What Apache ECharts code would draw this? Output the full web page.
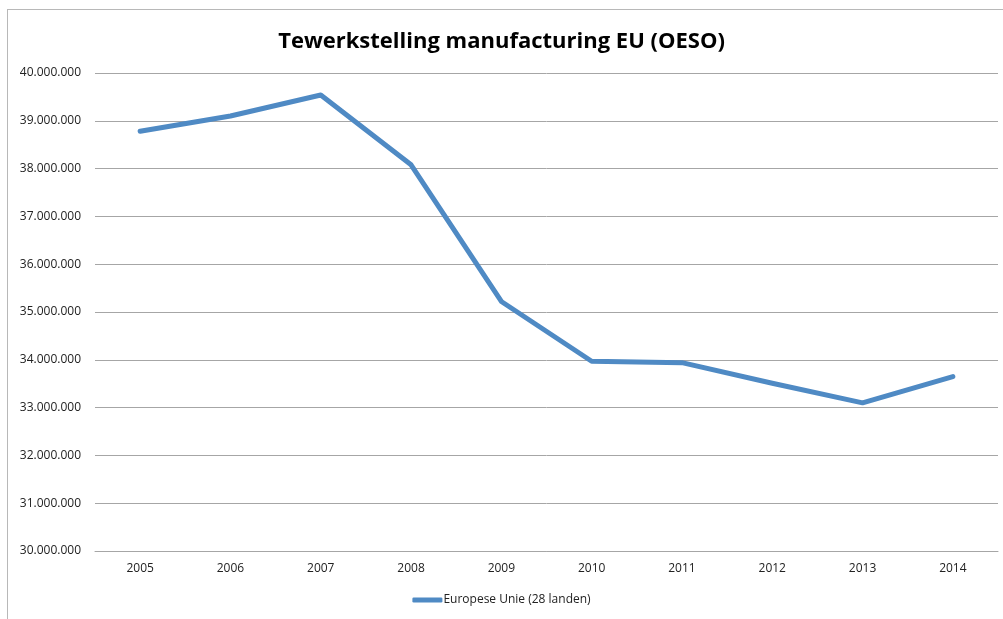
<!DOCTYPE html>
<html>
<head>
<meta charset="utf-8">
<script src="https://cdn.jsdelivr.net/npm/echarts@6/dist/echarts.min.js"></script>
<style>
  html, body { margin: 0; padding: 0; background: #fff; }
  #frame { position: absolute; left: 7px; top: 9px; width: 1000px; height: 612px; border: 1px solid #b8b8b8; box-sizing: border-box; border-right: none; border-bottom: none; }
  #main { position: absolute; left: 0; top: 0; width: 1003px; height: 619px; }
</style>
</head>
<body>
<div id="frame"></div>
<div id="main"></div>
<script>
  // jaren op de x-as
  const years = ['2005', '2006', '2007', '2008', '2009', '2010', '2011', '2012', '2013', '2014'];
  // tewerkstelling EU-28
  const employment = [38780000, 39100000, 39540000, 38080000, 35220000, 33970000, 33940000, 33510000, 33100000, 33650000];
  const seriesName = 'Europese Unie (28 landen)';

  function fmtDots(v) {
    return String(Math.round(v)).replace(/\B(?=(\d{3})+(?!\d))/g, '.');
  }

  const chart = echarts.init(document.getElementById('main'));
  chart.setOption({
    animation: false,
    textStyle: { fontFamily: 'Open Sans' },
    title: {
      text: 'Tewerkstelling manufacturing EU (OESO)',
      left: 'center',
      top: 26,
      textStyle: { fontSize: 22, fontWeight: 'bold', color: '#000', fontFamily: 'Open Sans' }
    },
    legend: {
      bottom: 8,
      left: 'center',
      itemWidth: 30,
      itemHeight: 5,
      itemGap: 2,
      icon: 'roundRect',
      data: [seriesName],
      textStyle: { fontSize: 12, color: '#222', padding: [0, 0, 0, -4] }
    },
    grid: { left: 95, right: 5, top: 73, bottom: 68 },
    xAxis: {
      type: 'category',
      data: years,
      boundaryGap: true,
      axisLine: { lineStyle: { color: '#a6a6a6', width: 1 } },
      axisTick: { alignWithLabel: true, length: 5, lineStyle: { color: '#a6a6a6' } },
      axisLabel: { color: '#222', fontSize: 12, margin: 12 }
    },
    yAxis: {
      type: 'value',
      min: 30000000,
      max: 40000000,
      interval: 1000000,
      axisLine: { show: false },
      axisTick: { show: false },
      axisLabel: { color: '#222', fontSize: 12, margin: 14, formatter: fmtDots },
      splitLine: { lineStyle: { color: '#a6a6a6', width: 1 } }
    },
    series: [{
      name: seriesName,
      type: 'line',
      data: employment,
      symbol: 'none',
      lineStyle: { color: '#4f8ac4', width: 5, cap: 'round', join: 'round' },
      itemStyle: { color: '#4f8ac4' }
    }]
  });
</script>
</body>
</html>
